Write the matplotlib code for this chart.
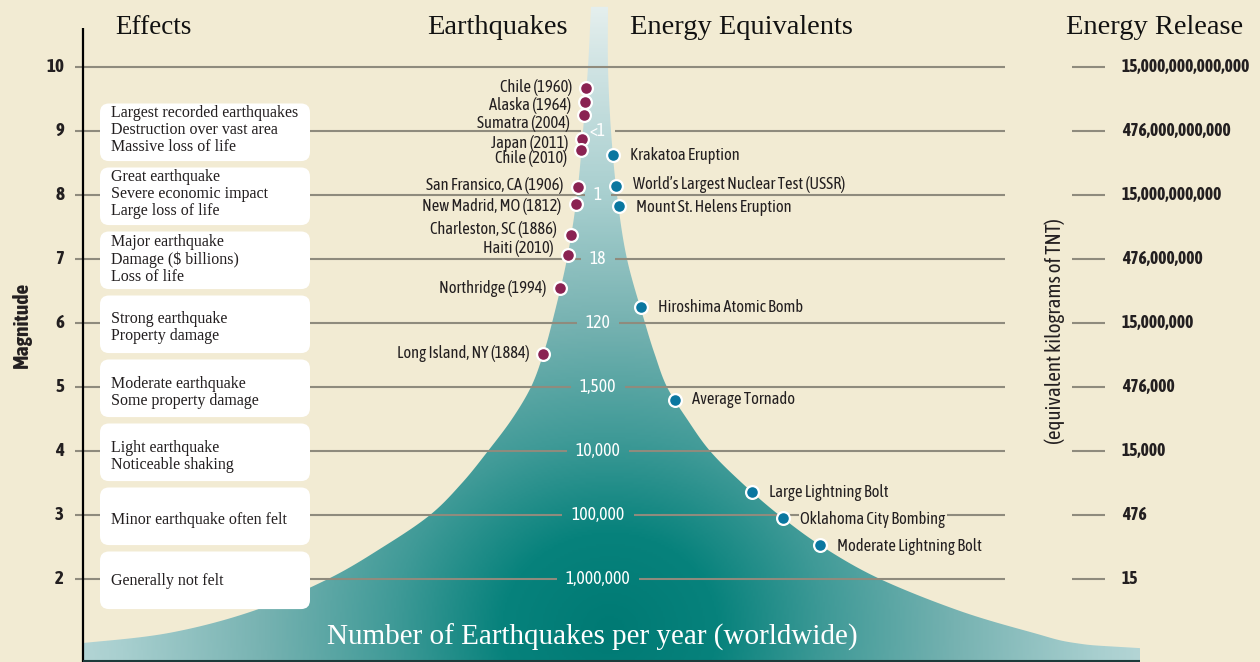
import numpy as np
import matplotlib
matplotlib.use('Agg')
import matplotlib.pyplot as plt
from matplotlib import font_manager
from matplotlib.font_manager import FontProperties
from matplotlib.colors import LinearSegmentedColormap
from matplotlib.patches import Polygon, FancyBboxPatch

# ---- data ----
magnitudes = [10, 9, 8, 7, 6, 5, 4, 3, 2]
energy_release = ['15,000,000,000,000', '476,000,000,000', '15,000,000,000', '476,000,000',
                  '15,000,000', '476,000', '15,000', '476', '15']
count_mags = [9, 8, 7, 6, 5, 4, 3, 2]
counts_per_year = ['<1', '1', '18', '120', '1,500', '10,000', '100,000', '1,000,000']

effect_mags = [9, 8, 7, 6, 5, 4, 3, 2]
effects = ['Largest recorded earthquakes\nDestruction over vast area\nMassive loss of life',
           'Great earthquake\nSevere economic impact\nLarge loss of life',
           'Major earthquake\nDamage ($ billions)\nLoss of life',
           'Strong earthquake\nProperty damage',
           'Moderate earthquake\nSome property damage',
           'Light earthquake\nNoticeable shaking',
           'Minor earthquake often felt',
           'Generally not felt']

quake_names = ['Chile (1960)', 'Alaska (1964)', 'Sumatra (2004)', 'Japan (2011)', 'Chile (2010)',
               'San Fransico, CA (1906)', 'New Madrid, MO (1812)', 'Charleston, SC (1886)',
               'Haiti (2010)', 'Northridge (1994)', 'Long Island, NY (1884)']
quake_mag = [9.67, 9.45, 9.25, 8.87, 8.70, 8.12, 7.86, 7.38, 7.06, 6.55, 5.52]

equiv_names = ['Krakatoa Eruption', "World\u2019s Largest Nuclear Test (USSR)", 'Mount St. Helens Eruption',
               'Hiroshima Atomic Bomb', 'Average Tornado', 'Large Lightning Bolt',
               'Oklahoma City Bombing', 'Moderate Lightning Bolt']
equiv_mag = [8.63, 8.14, 7.83, 6.25, 4.80, 3.36, 2.95, 2.53]

# funnel outline (left / right edge, in pixel columns) at these magnitudes
funnel_m = [0.70, 0.92, 1.0, 1.16, 1.5, 2.0, 2.5, 3.0, 3.5, 4.0, 4.5, 5.0, 5.5, 6.0, 7.0, 8.0, 9.0, 10.0, 10.94]
funnel_left = [-80, 20, 83, 170, 253, 328, 383, 430, 462, 488, 512, 531, 543, 552, 567, 577, 583, 588, 591]
funnel_right = [1400, 1140, 1075, 1033, 960, 880, 823, 779, 742, 710, 687, 667, 655, 645, 627, 617, 611, 608, 608]

# layout nudges (pixels, + = down)
quake_dy = [-1, 3, 8, 4, 8, -2, 3, -5, -7, 1, 0]
equiv_dy = [1, -2, 2, 0, 0, 1, 1, 1]
effect_dy = [-2, -2, -1, 3, 4, 4, 4, 1]

cream = '#f2ebd3'
grid_c = '#8f8b7d'
txt_c = '#231f20'
quake_c = '#8a2252'
equiv_c = '#0a77a0'

fig = plt.figure(figsize=(12.6, 6.62), dpi=100, facecolor=cream)
renderer = fig.canvas.get_renderer()


def text_wh(s, fp):
    w, h, d = renderer.get_text_width_height_descent(s, fp, ismath=False)
    return w, h - d


# condensed sans faces that are installed
fl = font_manager.fontManager.ttflist
names = {f.name for f in fl}
cond = [f for f in fl
        if (any(k in f.name for k in ('Condensed', 'Narrow', 'Cond', 'Compressed'))
            or str(f.stretch) not in ('normal', '400', 'medium'))
        and 'Mono' not in f.name and 'Serif' not in f.name and f.style == 'normal']
cond_reg = [f for f in cond if f.weight in (400, 'normal', 'regular', 'book')]
cond_bold = [f for f in cond if f.weight in (600, 700, 'bold', 'semibold', 'demibold')]
serif = 'Liberation Serif' if 'Liberation Serif' in names else 'DejaVu Serif'
fallback = 'Roboto' if 'Roboto' in names else 'DejaVu Sans'


def best_face(pool, probe, target_w, target_cap):
    # the face whose cap height is closest to the target once fitted to the target width
    best, err = None, None
    for f in pool:
        w, _ = text_wh(probe, FontProperties(fname=f.fname, size=10))
        size = 10 * target_w / w
        _, cap = text_wh('H', FontProperties(fname=f.fname, size=size))
        e = abs(cap - target_cap)
        if err is None or e < err:
            best, err = f, e
    return best


reg_src = best_face(cond_reg, 'New Madrid, MO (1812)', 139, 12.5) if cond_reg else None
bold_src = best_face(cond_bold, '15,000,000,000,000', 126, 12.5) if cond_bold else None


def nfont(size, bold=False):
    if bold and bold_src is not None:
        return FontProperties(fname=bold_src.fname, size=size)
    if reg_src is not None:
        return FontProperties(fname=reg_src.fname, size=size, weight='bold' if bold else 'normal')
    return FontProperties(family=fallback, size=size, weight='bold' if bold else 'normal')


def fit(s, target_px, bold=False):
    w, _ = text_wh(s, nfont(10, bold))
    return nfont(10 * target_px / w, bold)


def fit_h(s, target_px, bold=False):
    _, h = text_wh(s, nfont(10, bold))
    return nfont(10 * target_px / h, bold)


def px2m(y):
    return 10 - (y - 67) / 64.0


def catmull(px, py, n=24):
    P = np.column_stack([px, py]).astype(float)
    P = np.vstack([2 * P[0] - P[1], P, 2 * P[-1] - P[-2]])
    out = []
    t = np.linspace(0, 1, n, endpoint=False)[:, None]
    for i in range(1, len(P) - 2):
        p0, p1, p2, p3 = P[i - 1], P[i], P[i + 1], P[i + 2]
        out.append(0.5 * (2 * p1 + (-p0 + p2) * t + (2 * p0 - 5 * p1 + 4 * p2 - p3) * t ** 2
                          + (-p0 + 3 * p1 - 3 * p2 + p3) * t ** 3))
    out.append(P[-2][None])
    return np.vstack(out)


label_fp = fit('New Madrid, MO (1812)', 139)
count_fp = fit('1,000,000', 63)
release_fp = fit('15,000,000,000,000', 126, bold=True)
tick_fp = fit_h('0', 15, bold=True)
mag_fp = fit('Magnitude', 85, bold=True)
tnt_fp = fit('(equivalent kilograms of TNT)', 225)

ax = fig.add_axes([0, 0, 1, 1])
ax.set_xlim(0, 1260)
ax.set_ylim(px2m(662), px2m(0))
ax.axis('off')

# funnel with radial gradient
fm = np.array(funnel_m)
left = catmull(funnel_left, fm * 64)
right = catmull(funnel_right, fm * 64)
poly_xy = np.vstack([np.column_stack([left[:, 0], left[:, 1] / 64]),
                     np.column_stack([right[::-1, 0], right[::-1, 1] / 64])])
poly = Polygon(poly_xy, closed=True, facecolor='none', edgecolor='none')
ax.add_patch(poly)

cmap = LinearSegmentedColormap.from_list('funnel', [
    (0.0, '#007a74'), (0.15, '#07827c'), (0.3, '#3f9a97'), (0.48, '#76b2b1'),
    (0.68, '#a8cfcf'), (0.88, '#cfe3e3'), (1.0, '#eaf2f0')])
gx = np.linspace(83, 1140, 530)
gy = np.linspace(0, 662, 332)
X, Y = np.meshgrid(gx, gy)
d = np.sqrt(((X - 610) / 720.0) ** 2 + ((Y - 630) / 640.0) ** 2)
im = ax.imshow(cmap(np.clip(d, 0, 1)), extent=(83, 1140, px2m(662), px2m(0)),
               origin='upper', aspect='auto', zorder=1, interpolation='bilinear')
im.set_clip_path(poly)

# count labels inside funnel
count_texts = []
for m, c in zip(count_mags, counts_per_year):
    count_texts.append(ax.text(598, m, c, color='white', fontproperties=count_fp,
                               ha='center', va='center', zorder=4))

fig.canvas.draw()
gaps = {}
for m, t in zip(count_mags, count_texts):
    bb = t.get_window_extent(renderer)
    gaps[m] = (bb.x0 - 9, bb.x1 + 9)

# grid lines
for m in magnitudes:
    if m in gaps:
        ax.hlines(m, 75, gaps[m][0], color=grid_c, lw=1.5, zorder=2)
        ax.hlines(m, gaps[m][1], 1005, color=grid_c, lw=1.5, zorder=2)
    else:
        ax.hlines(m, 75, 1005, color=grid_c, lw=1.5, zorder=2)
    ax.hlines(m, 1072, 1105, color=grid_c, lw=1.5, zorder=2)

# left axis
ax.vlines(83, px2m(662), px2m(28), color='black', lw=1.6, zorder=3)
ax.hlines(px2m(661), 83, 1140, color='#1d3b3b', lw=1.5, zorder=3)
for m in magnitudes:
    ax.text(64, m, str(m), ha='right', va='center', fontproperties=tick_fp, color=txt_c)
ax.text(22, px2m(325), 'Magnitude', rotation=90, ha='center', va='center',
        fontproperties=mag_fp, color=txt_c)

# effects boxes
for m, e, dy in zip(effect_mags, effects, effect_dy):
    box = FancyBboxPatch((100, m - 0.47), 210, 0.9, boxstyle='round,pad=0,rounding_size=9',
                         mutation_aspect=1 / 64.0, facecolor='white', edgecolor='none', zorder=3)
    ax.add_patch(box)
    ax.text(111, m - 0.02 - dy / 64.0, e, ha='left', va='center', fontsize=11.5, family=serif,
            color=txt_c, linespacing=1.08, zorder=4)

# earthquake dots (left edge of the funnel)
qx = np.interp(quake_mag, funnel_m, funnel_left)
ax.scatter(qx, quake_mag, s=85, color=quake_c, edgecolor='white', linewidth=1.6, zorder=5)
for x, m, n, dy in zip(qx, quake_mag, quake_names, quake_dy):
    ax.text(x - 14, m - dy / 64.0, n, ha='right', va='center', fontproperties=label_fp,
            color=txt_c, zorder=4)

# energy equivalents (right edge)
ex = np.interp(equiv_mag, funnel_m, funnel_right)
ax.scatter(ex, equiv_mag, s=85, color=equiv_c, edgecolor='white', linewidth=1.6, zorder=5)
for x, m, n, dy in zip(ex, equiv_mag, equiv_names, equiv_dy):
    ly = m - dy / 64.0
    bbox = None
    if abs(ly - round(ly)) < 0.12:
        bbox = dict(facecolor=cream, edgecolor='none', pad=1)
    ax.text(x + 17, ly, n, ha='left', va='center', fontproperties=label_fp,
            color=txt_c, zorder=4, bbox=bbox)

# energy release column
for m, e in zip(magnitudes, energy_release):
    ax.text(1122, m, e, ha='left', va='center', fontproperties=release_fp, color=txt_c)
ax.text(1055, px2m(331), '(equivalent kilograms of TNT)', rotation=90, ha='center',
        va='center', fontproperties=tnt_fp, color=txt_c)

# headers
hy = px2m(27)
ax.text(115, hy, 'Effects', ha='left', va='center', fontsize=19.5, family=serif, color='#111')
ax.text(568, hy, 'Earthquakes', ha='right', va='center', fontsize=20.5, family=serif, color='#111')
ax.text(630, hy, 'Energy Equivalents', ha='left', va='center', fontsize=20.5, family=serif, color='#111')
ax.text(1155, hy, 'Energy Release', ha='center', va='center', fontsize=20.5, family=serif, color='#111')
ax.text(592, px2m(637), 'Number of Earthquakes per year (worldwide)', ha='center', va='center',
        fontsize=21, family=serif, color='white', zorder=4)

plt.savefig('out.png', dpi=100, facecolor=cream)
